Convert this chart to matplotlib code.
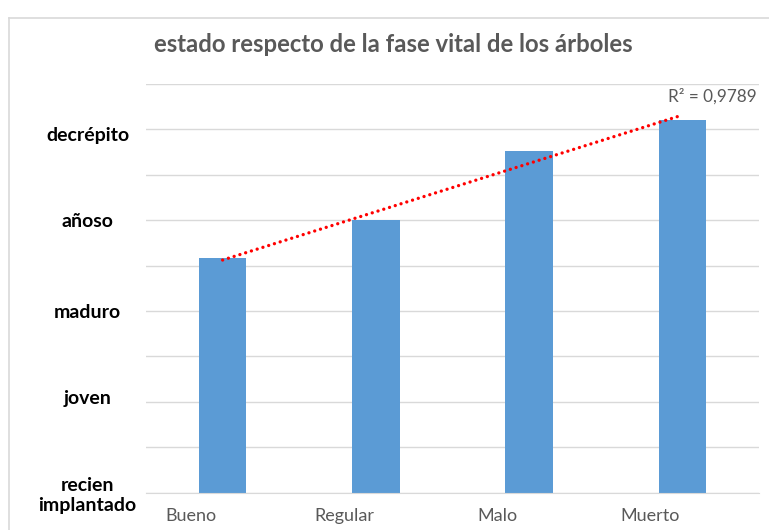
import matplotlib.pyplot as plt
from matplotlib.lines import Line2D
from matplotlib.transforms import ScaledTranslation
import numpy as np

# datos
categorias = ['Bueno', 'Regular', 'Malo', 'Muerto']
valores = [2.58, 3.0, 3.76, 4.10]
fases = ['recien\nimplantado', 'joven', 'maduro', 'añoso', 'decrépito']
fase_pos = [0, 1, 2, 3, 4]
r2_texto = 'R² = 0,9789'
titulo = 'estado respecto de la fase vital de los árboles'

plt.rcParams['font.family'] = ['Lato', 'DejaVu Sans']

fig = plt.figure(figsize=(7.69, 5.30), dpi=100)
ax = fig.add_axes([146 / 769, 1 - 492.7 / 530, (759 - 146) / 769, (492.7 - 84) / 530])

x = np.arange(len(categorias))
ax.bar(x, valores, width=0.31, color='#5B9BD5', zorder=2)

# línea de tendencia lineal
m, b = np.polyfit(x, valores, 1)
ax.plot(x[[0, -1]], m * x[[0, -1]] + b, color='#FF0000', linestyle=(0, (0.01, 1.8)),
        linewidth=2.4, dash_capstyle='round', zorder=3)

ax.set_xlim(-0.5, len(categorias) - 0.5)
ax.set_ylim(0, 4.5)
ax.set_yticks(fase_pos)
ax.set_yticklabels(fases, fontsize=14, fontweight='bold', color='#000000')
ax.set_yticks(np.arange(0, 4.51, 0.5), minor=True)
ax.grid(axis='y', which='both', color='#D9D9D9', linewidth=1, zorder=0)
ax.tick_params(axis='y', which='both', length=0, pad=42)
# pequeños desplazamientos verticales como en el original
desp = {'decrépito': -5, 'joven': 5}
for lbl in ax.get_yticklabels():
    lbl.set_ha('center')
    lbl.set_multialignment('center')
    d = desp.get(lbl.get_text(), 0)
    if d:
        lbl.set_transform(lbl.get_transform() + ScaledTranslation(0, d / 100, fig.dpi_scale_trans))

ax.set_xticks(x)
ax.set_xticklabels(categorias, fontsize=13, color='#595959')
ax.tick_params(axis='x', length=0, pad=11)
for lbl in ax.get_xticklabels():
    lbl.set_transform(lbl.get_transform() + ScaledTranslation(-32 / 100, 0, fig.dpi_scale_trans))

for s in ['top', 'right', 'left']:
    ax.spines[s].set_visible(False)
ax.spines['bottom'].set_color('#D9D9D9')
ax.set_axisbelow(True)

fig.text(757 / 769, 1 - 96 / 530, r2_texto, ha='right', va='center', fontsize=12.3, color='#595959')
fig.text(393.5 / 769, 1 - 45 / 530, titulo, ha='center', va='center', fontsize=17.2,
         fontweight='bold', color='#595959')

# borde del área del gráfico
fig.add_artist(Line2D([9 / 769, 9 / 769], [0, 1 - 18 / 530], transform=fig.transFigure, color='#D9D9D9', lw=1.2))
fig.add_artist(Line2D([9 / 769, 1], [1 - 18 / 530, 1 - 18 / 530], transform=fig.transFigure, color='#D9D9D9', lw=1.2))

fig.savefig('out.png', dpi=100)
